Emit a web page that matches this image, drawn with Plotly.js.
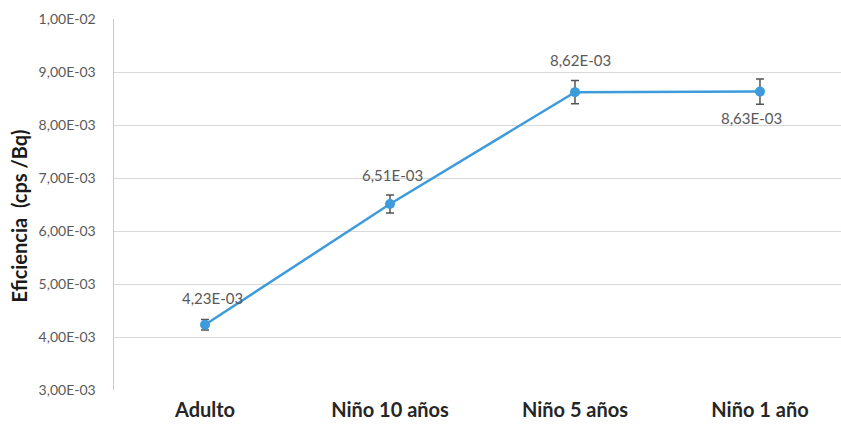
<!DOCTYPE html>
<html>
<head>
<meta charset="utf-8">
<script src="https://cdn.plot.ly/plotly-3.0.1.min.js"></script>
<style>html,body{margin:0;padding:0;background:#fff;}#chart{width:841px;height:426px;}</style>
</head>
<body>
<div id="chart"></div>
<script>
const categories = ["Adulto", "Niño 10 años", "Niño 5 años", "Niño 1 año"];
const efficiency = [4.23e-3, 6.51e-3, 8.62e-3, 8.63e-3];
const errors = [0.10e-3, 0.17e-3, 0.22e-3, 0.24e-3];
const labels = ["4,23E-03", "6,51E-03", "8,62E-03", "8,63E-03"];
const yTickVals = [3e-3, 4e-3, 5e-3, 6e-3, 7e-3, 8e-3, 9e-3, 1e-2];
const yTickText = ["3,00E-03", "4,00E-03", "5,00E-03", "6,00E-03", "7,00E-03", "8,00E-03", "9,00E-03", "1,00E-02"];
const yTitle = "Eficiencia  (cps /Bq)";

const labelShifts = [[7, 27], [2, 29], [6, 32], [-8, -26]];

const trace = {
  x: categories,
  y: efficiency,
  type: "scatter",
  mode: "lines+markers",
  line: {color: "#3D9BDC", width: 2.5},
  marker: {color: "#3D9BDC", size: 10},
  error_y: {type: "data", array: errors, visible: true, color: "#555555", thickness: 1.5, width: 4},
  hoverinfo: "none"
};

const annotations = categories.map((c, i) => ({
  x: c, y: efficiency[i], xref: "x", yref: "y",
  text: labels[i], showarrow: false,
  xshift: labelShifts[i][0], yshift: labelShifts[i][1],
  font: {family: "Lato, 'Open Sans', sans-serif", size: 15, color: "#595959"}
}));
annotations.push({
  xref: "paper", yref: "paper", x: -0.13, y: 0.469,
  xanchor: "center", yanchor: "middle",
  text: yTitle, textangle: -90, showarrow: false,
  font: {family: "Lato, 'Open Sans', sans-serif", size: 20, color: "#1a1a1a", weight: "bold"}
});

const layout = {
  width: 841, height: 426,
  margin: {l: 114, r: 0, t: 19, b: 36},
  paper_bgcolor: "#ffffff", plot_bgcolor: "#ffffff",
  showlegend: false,
  xaxis: {
    type: "category",
    range: [-0.492, 3.438],
    showgrid: false, zeroline: false, showline: false,
    ticks: "", ticklabelstandoff: 6,
    tickfont: {family: "Lato, 'Open Sans', sans-serif", size: 20, color: "#262626", weight: "bold"},
    fixedrange: true
  },
  yaxis: {
    range: [3e-3, 1e-2],
    tickvals: yTickVals, ticktext: yTickText,
    showgrid: true, gridcolor: "#d9d9d9", gridwidth: 1,
    zeroline: false,
    showline: true, linecolor: "#c8c8c8", linewidth: 1.5,
    ticks: "", ticklabelstandoff: 14,
    tickfont: {family: "Lato, 'Open Sans', sans-serif", size: 14, color: "#595959"},
    fixedrange: true
  },
  annotations: annotations
};

Plotly.newPlot("chart", [trace], layout, {displayModeBar: false, staticPlot: true});
</script>
</body>
</html>
